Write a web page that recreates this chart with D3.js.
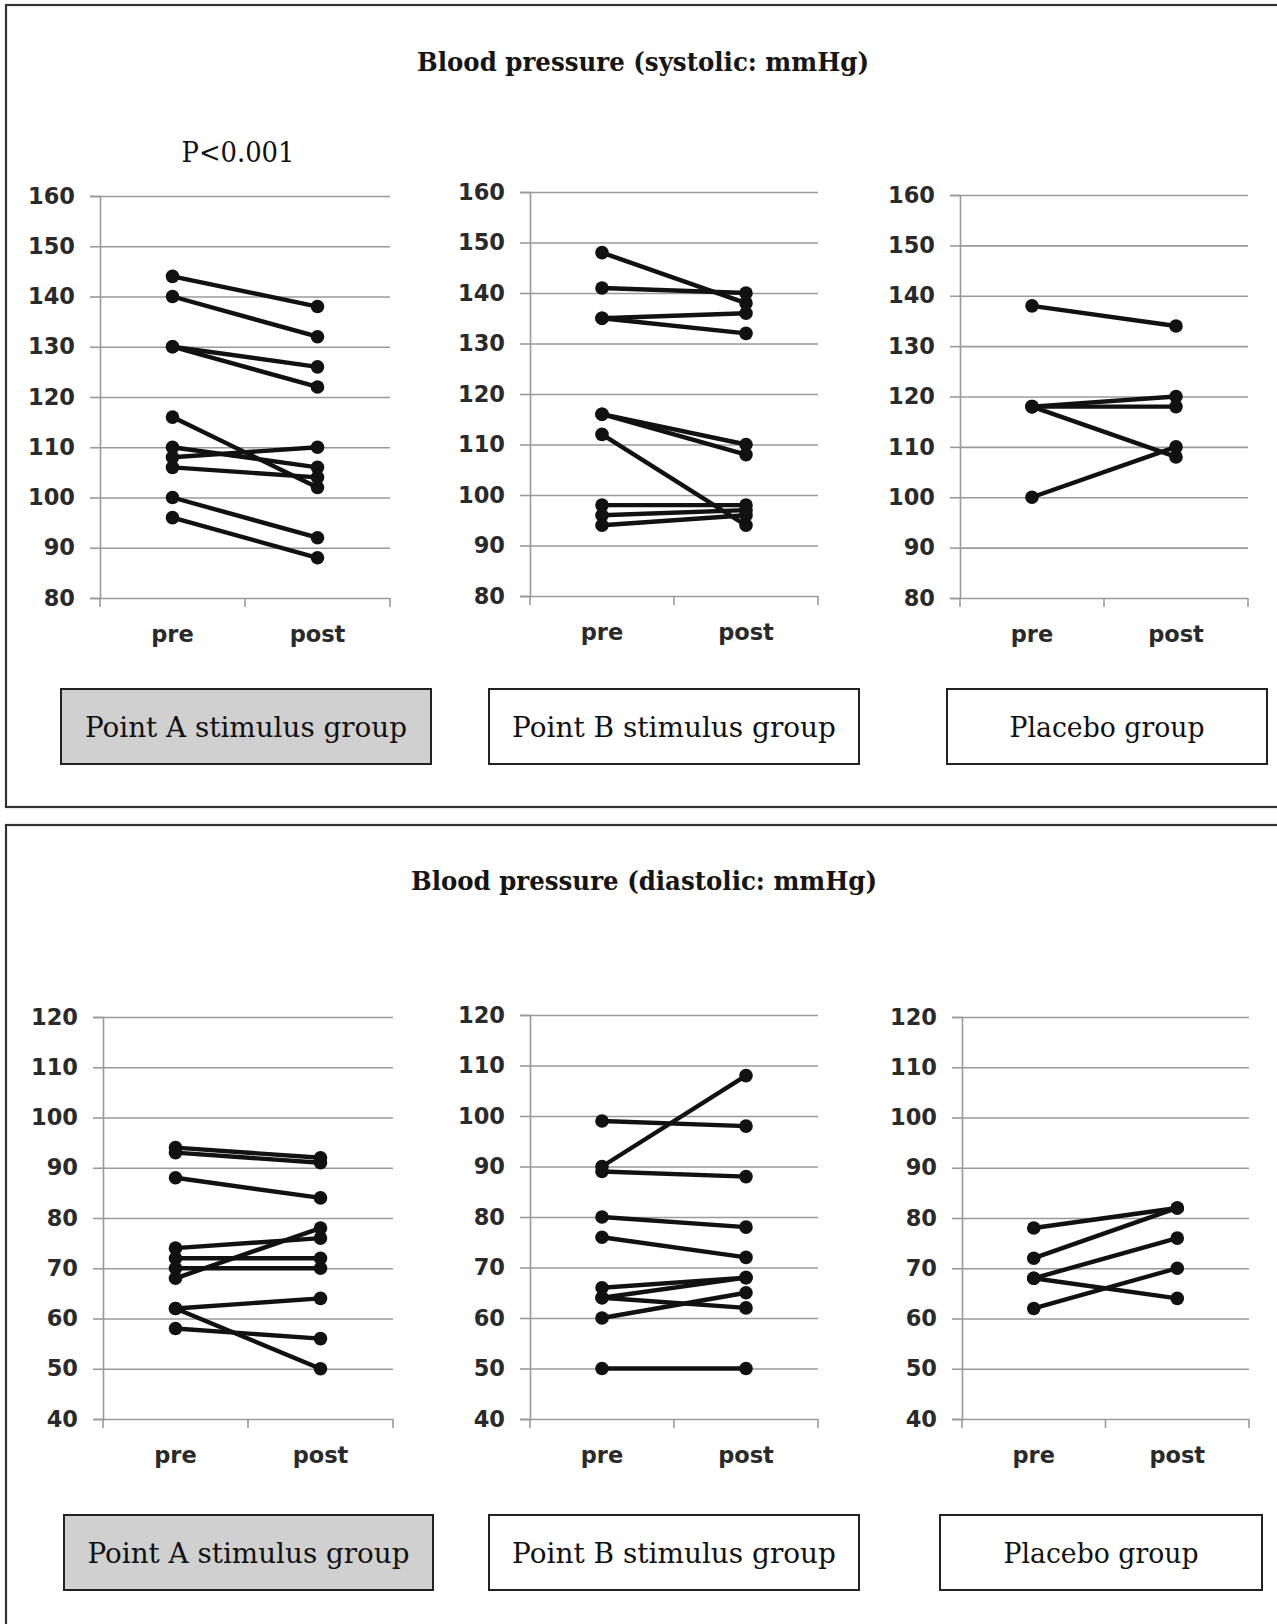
<!DOCTYPE html>
<html>
<head>
<meta charset="utf-8">
<script src="https://cdn.jsdelivr.net/npm/d3@7"></script>
<style>
html,body{margin:0;padding:0;background:#fff;}
svg{display:block;}
</style>
</head>
<body>
<svg id="chart" width="1277" height="1624"></svg>
<script>
// ---------- data ----------
const groups = ["Point A stimulus group", "Point B stimulus group", "Placebo group"];
const times = ["pre", "post"];
const sysTicks = [80, 90, 100, 110, 120, 130, 140, 150, 160];
const diaTicks = [40, 50, 60, 70, 80, 90, 100, 110, 120];
const titles = ["Blood pressure (systolic: mmHg)", "Blood pressure (diastolic: mmHg)"];
const pNote = "P<0.001";

const sysA_pre  = [144, 140, 130, 130, 116, 110, 108, 106, 100, 96];
const sysA_post = [138, 132, 126, 122, 102, 106, 110, 104, 92, 88];
const sysB_pre  = [148, 141, 135, 135, 116, 116, 112, 98, 96, 94];
const sysB_post = [138, 140, 136, 132, 110, 108, 94, 98, 97, 96];
const sysP_pre  = [138, 118, 118, 118, 100];
const sysP_post = [134, 120, 118, 108, 110];

const diaA_pre  = [94, 93, 88, 74, 72, 70, 68, 62, 62, 58];
const diaA_post = [92, 91, 84, 76, 72, 70, 78, 64, 50, 56];
const diaB_pre  = [99, 90, 89, 80, 76, 66, 64, 64, 60, 50];
const diaB_post = [98, 108, 88, 78, 72, 68, 68, 62, 65, 50];
const diaP_pre  = [78, 72, 68, 68, 62];
const diaP_post = [82, 82, 76, 64, 70];

// ---------- layout ----------
const svg = d3.select("#chart");
const SERIF = "'DejaVu Serif', 'Liberation Serif', serif";
const SANS = "'DejaVu Sans', sans-serif";
const GRID = "#9a9a9a";

// outer frames
svg.append("rect").attr("x", 6).attr("y", 5).attr("width", 1300).attr("height", 802)
  .attr("fill", "none").attr("stroke", "#333").attr("stroke-width", 2.2);
svg.append("rect").attr("x", 6).attr("y", 825).attr("width", 1300).attr("height", 900)
  .attr("fill", "none").attr("stroke", "#333").attr("stroke-width", 2.2);

// titles
svg.append("text").attr("x", 643).attr("y", 71).attr("text-anchor", "middle")
  .attr("font-family", SERIF).attr("font-size", 26).attr("font-weight", "bold").attr("fill", "#151515")
  .attr("textLength", 452).attr("lengthAdjust", "spacingAndGlyphs").text(titles[0]);
svg.append("text").attr("x", 644).attr("y", 890).attr("text-anchor", "middle")
  .attr("font-family", SERIF).attr("font-size", 26).attr("font-weight", "bold").attr("fill", "#151515")
  .attr("textLength", 466).attr("lengthAdjust", "spacingAndGlyphs").text(titles[1]);

svg.append("text").attr("x", 238).attr("y", 162).attr("text-anchor", "middle")
  .attr("font-family", SERIF).attr("font-size", 27).attr("fill", "#111")
  .attr("textLength", 113).attr("lengthAdjust", "spacingAndGlyphs").text(pNote);

const panels = [
  {x0: 100, x1: 390, yLo: 598, yHi: 196, dom: [80, 160], ticks: sysTicks, pre: sysA_pre, post: sysA_post},
  {x0: 530, x1: 818, yLo: 596, yHi: 192, dom: [80, 160], ticks: sysTicks, pre: sysB_pre, post: sysB_post},
  {x0: 960, x1: 1248, yLo: 598, yHi: 195, dom: [80, 160], ticks: sysTicks, pre: sysP_pre, post: sysP_post},
  {x0: 103, x1: 393, yLo: 1419, yHi: 1017, dom: [40, 120], ticks: diaTicks, pre: diaA_pre, post: diaA_post},
  {x0: 530, x1: 818, yLo: 1419, yHi: 1015, dom: [40, 120], ticks: diaTicks, pre: diaB_pre, post: diaB_post},
  {x0: 962, x1: 1249, yLo: 1419, yHi: 1017, dom: [40, 120], ticks: diaTicks, pre: diaP_pre, post: diaP_post}
];

panels.forEach(p => {
  const x = d3.scaleBand().domain(times).range([p.x0, p.x1]).padding(0);
  const y = d3.scaleLinear().domain(p.dom).range([p.yLo, p.yHi]);
  const g = svg.append("g");

  // y axis with gridlines
  const yAxis = d3.axisLeft(y).tickValues(p.ticks).tickSize(10).tickPadding(15);
  const ya = g.append("g").attr("transform", `translate(${p.x0},0)`).call(yAxis);
  ya.select(".domain").attr("stroke", GRID).attr("stroke-width", 1.6);
  ya.selectAll(".tick line").attr("stroke", GRID).attr("stroke-width", 1.6);
  ya.selectAll(".tick text").attr("font-family", SANS).attr("font-weight", "bold")
    .attr("font-size", 22.5).attr("fill", "#2a2a2a");
  ya.selectAll(".tick").append("line")
    .attr("x1", 0).attr("x2", p.x1 - p.x0).attr("stroke", GRID).attr("stroke-width", 1.6);

  // x axis
  const xAxis = d3.axisBottom(x).tickSize(0).tickPadding(28);
  const xa = g.append("g").attr("transform", `translate(0,${p.yLo})`).call(xAxis);
  xa.select(".domain").remove();
  xa.selectAll(".tick text").attr("font-family", SANS).attr("font-weight", "bold")
    .attr("font-size", 22.5).attr("fill", "#2a2a2a");
  // category boundary ticks
  const bounds = times.map(t => x(t)).concat([x.range()[1]]);
  g.selectAll(".btick").data(bounds).join("line")
    .attr("x1", d => d).attr("x2", d => d)
    .attr("y1", p.yLo).attr("y2", p.yLo + 9)
    .attr("stroke", GRID).attr("stroke-width", 1.6);

  // data lines
  const cx = t => x(t) + x.bandwidth() / 2;
  const pairs = p.pre.map((v, i) => ({pre: v, post: p.post[i]}));
  g.selectAll(".pair").data(pairs).join("line")
    .attr("x1", cx("pre")).attr("x2", cx("post"))
    .attr("y1", d => y(d.pre)).attr("y2", d => y(d.post))
    .attr("stroke", "#111").attr("stroke-width", 4.4);
  const pts = [];
  pairs.forEach(d => { pts.push({t: "pre", v: d.pre}); pts.push({t: "post", v: d.post}); });
  g.selectAll(".pt").data(pts).join("circle")
    .attr("cx", d => cx(d.t)).attr("cy", d => y(d.v)).attr("r", 6.8).attr("fill", "#111");
});

// group label boxes
const boxRows = [
  [{x: 61, w: 370, tw: 322}, {x: 489, w: 370, tw: 324}, {x: 947, w: 320, tw: 195}],
  [{x: 64, w: 369, tw: 322}, {x: 489, w: 370, tw: 324}, {x: 940, w: 322, tw: 195}]
];
const boxY = [689, 1515];
boxRows.forEach((row, r) => {
  row.forEach((b, i) => {
    svg.append("rect").attr("x", b.x).attr("y", boxY[r]).attr("width", b.w).attr("height", 75)
      .attr("fill", i === 0 ? "#d0d0d0" : "#fff").attr("stroke", "#222").attr("stroke-width", 2);
    svg.append("text").attr("x", b.x + b.w / 2).attr("y", boxY[r] + 48)
      .attr("text-anchor", "middle").attr("font-family", SERIF).attr("font-size", 28)
      .attr("fill", "#111").attr("textLength", b.tw).attr("lengthAdjust", "spacingAndGlyphs")
      .text(groups[i]);
  });
});
</script>
</body>
</html>
